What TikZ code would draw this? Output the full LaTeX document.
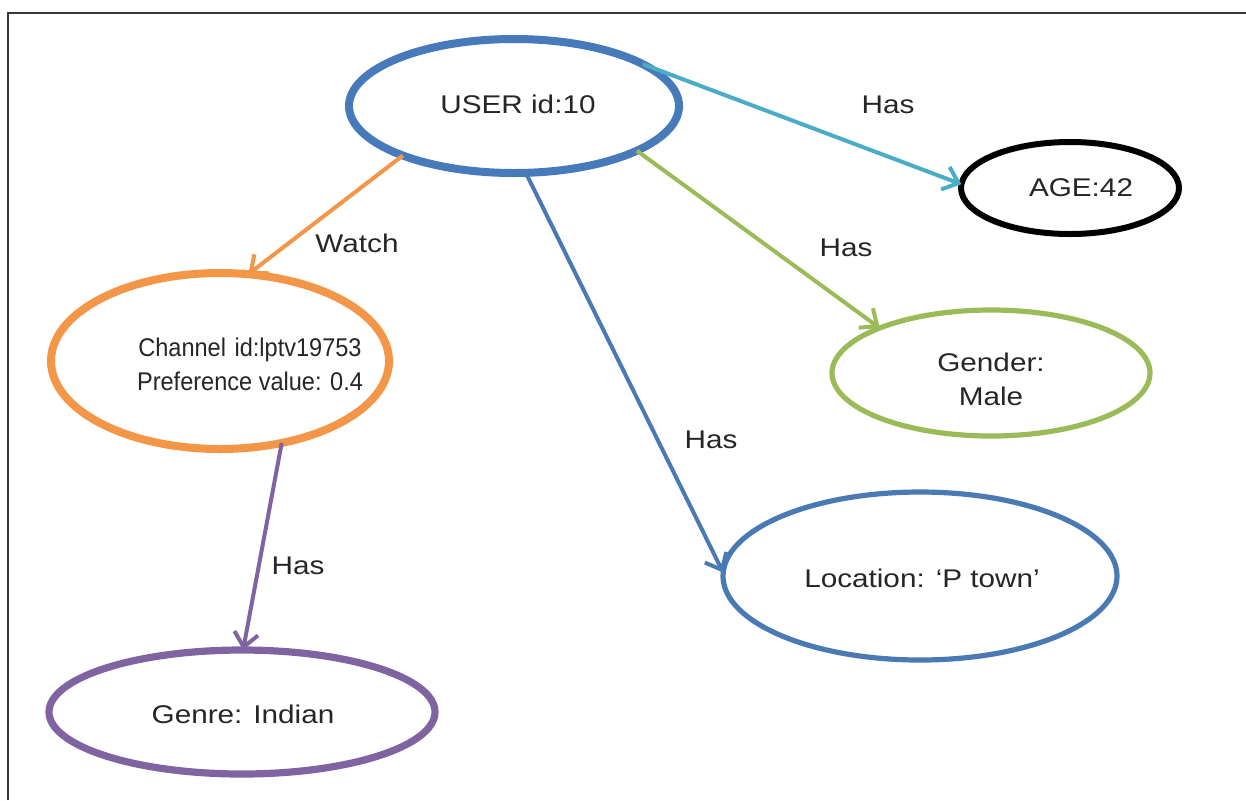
\documentclass[tikz,border=0pt]{standalone}
\usepackage{fontspec}
\setmainfont{Liberation Sans}[FakeStretch=1.16]
\usetikzlibrary{shapes.geometric,arrows.meta}
\definecolor{userblue}{RGB}{70,122,186}
\definecolor{tealc}{RGB}{75,172,198}
\definecolor{greenc}{RGB}{155,187,89}
\definecolor{locblue}{RGB}{74,122,180}
\definecolor{orangec}{RGB}{243,150,72}
\definecolor{purplec}{RGB}{128,100,162}
\definecolor{framec}{RGB}{55,55,55}
\begin{document}
\begin{tikzpicture}[x=0.5pt,y=-0.5pt,
  ell/.style={ellipse, inner sep=0pt, outer sep=0pt, fill=white},
  txt/.style={font=\fontsize{12.8}{17}\selectfont, align=center, text=black!85, inner sep=0pt},
  conn/.style={line width=2pt, -{Straight Barb[length=7pt,width=12pt]}},
]
\useasboundingbox (0,0) rectangle (1246,800);
\fill[white] (0,0) rectangle (1246,800);
\draw[line width=1.4pt, framec] (8,800) -- (8,13) -- (1246,13);

% ellipses
\node[ell, draw=userblue, line width=4pt, minimum width=165pt, minimum height=67pt] (user) at (514,106) {};
\node[ell, draw=black, line width=3pt, minimum width=109pt, minimum height=46pt] (age) at (1070,188) {};
\node[ell, draw=greenc, line width=2.6pt, minimum width=159pt, minimum height=63pt] (gender) at (991,373) {};
\node[ell, draw=locblue, line width=2.6pt, minimum width=197pt, minimum height=84pt] (loc) at (920,576) {};
\node[ell, draw=orangec, line width=4pt, minimum width=169pt, minimum height=88pt] (chan) at (220,361) {};
\node[ell, draw=purplec, line width=3.6pt, minimum width=193pt, minimum height=62pt] (genre) at (242,712) {};

% texts
\node[txt] (usert) at (518,104) {USER id:10};
\node[txt] (aget) at (1081,188) {AGE:42};
\node[txt] (gendert) at (991,379) {Gender:\\Male};
\node[txt] (loct) at (922,578) {Location: ‘P town’};
\node[txt, font=\fontsize{12.8}{17}\selectfont\addfontfeature{FakeStretch=0.92}] (chant) at (250,364) {Channel\,\,id:lptv19753\\Preference value:\,\,0.4};
\node[txt] (genret) at (243,714) {Genre: Indian};

% connectors
\draw[conn, tealc] (user.18) -- (age.178);
\draw[conn, greenc] (user.-20) -- (gender.158);
\draw[conn, locblue] (user.-80) -- (loc.179);
\draw[conn, orangec] (user.-156) -- (chan.72);
\draw[conn, purplec] (chan.-53) -- (genre.89);

% labels
\node[txt] (l1) at (888,105) {Has};
\node[txt] (l2) at (846,248) {Has};
\node[txt] (l3) at (711,440) {Has};
\node[txt] (l4) at (357,243) {Watch};
\node[txt] (l5) at (298,566) {Has};
\end{tikzpicture}
\end{document}
